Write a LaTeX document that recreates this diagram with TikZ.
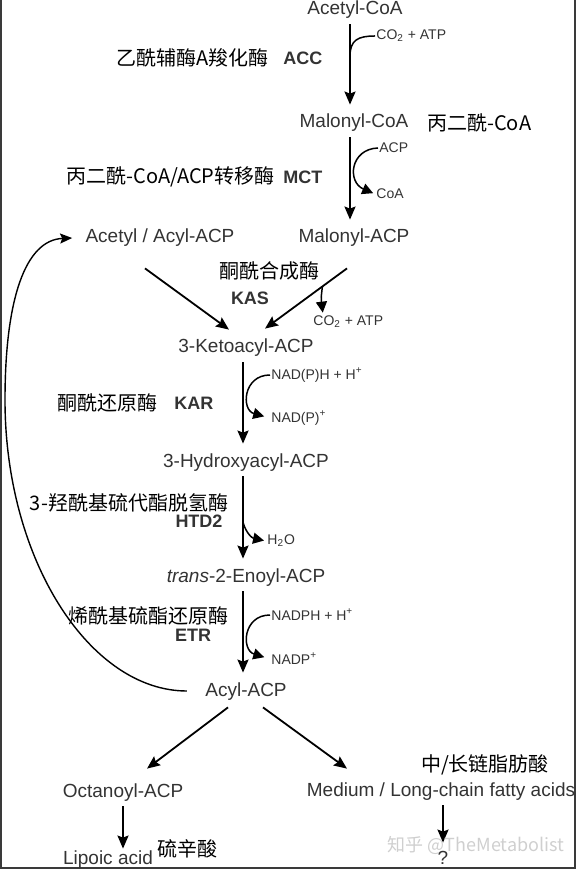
\documentclass[tikz,border=0pt]{standalone}
\usepackage{fontspec}
\setmainfont{Liberation Sans}
\setsansfont{Liberation Sans}
\newfontfamily\cjk{Noto Sans CJK SC}
\usepackage{tikz}
\usetikzlibrary{arrows.meta,positioning,calc}
\definecolor{Ink}{HTML}{333333}
\definecolor{Mark}{HTML}{CFCFCF}
\definecolor{Frame}{HTML}{3A3A3A}
\tikzset{
  metab/.style={text=Ink,font=\fontsize{9.5}{11}\selectfont,inner sep=0.5pt,text height=7pt,text depth=2pt},
  cofac/.style={text=Ink,font=\fontsize{7}{8}\selectfont,inner sep=0.5pt,anchor=west},
  enzyme/.style={text=Ink,font=\fontsize{9}{10}\selectfont\bfseries,inner sep=0.5pt},
  zhname/.style={text=black,font=\cjk\fontsize{10}{12}\selectfont,inner sep=0.5pt},
  flowarrow/.style={-{Stealth[length=6.5pt,width=5.5pt,inset=1pt]},line width=1pt,shorten <=2pt,shorten >=4pt},
  fork/.style={line width=0.75pt},
  forkarrow/.style={fork,-{Triangle[length=5.5pt,width=5.5pt]},shorten >=1pt},
  diagarrow/.style={-{Stealth[length=6.5pt,width=5.5pt,inset=1pt]},line width=0.9pt},
  recycle/.style={-{Stealth[length=6pt,width=5pt,inset=1pt]},line width=0.7pt},
  frame/.style={draw=Frame,line width=1pt},
  watermark/.style={text=Mark,font=\cjk\fontsize{9}{11}\selectfont,inner sep=0.5pt}
}

\begin{document}
\begin{tikzpicture}[x=0.5pt,y=-0.5pt]
  \useasboundingbox (0,0) rectangle (577,870);
  \draw[frame] (1,0) -- (1,868) -- (575,868) -- (575,0);
  % metabolites
  \node[metab] (acoa) at (355,10) {Acetyl-CoA};
  \node[metab] (mcoa) at (354,123) {Malonyl-CoA};
  \node[zhname,right=8pt of mcoa] (mcoazh) {丙二酰-CoA};
  \node[metab] (macp) at (354,238) {Malonyl-ACP};
  \node[metab] (aacp) at (160,238) {Acetyl / Acyl-ACP};
  \node[metab] (keto) at (246,348) {3-Ketoacyl-ACP};
  \node[metab] (hydroxy) at (246,462) {3-Hydroxyacyl-ACP};
  \node[metab] (enoyl) at (246,577) {\textit{trans}-2-Enoyl-ACP};
  \node[metab] (acyl) at (246,691) {Acyl-ACP};
  \node[metab] (oct) at (123,792) {Octanoyl-ACP};
  \node[metab] (lipoic) at (108,859) {Lipoic acid};
  \node[zhname] (lipoiczh) at (187,849) {硫辛酸};
  \node[metab] (mlc) at (441,791) {Medium / Long-chain fatty acids};
  \node[zhname] (mlczh) at (485,765) {中/长链脂肪酸};
  \node[metab] (unknown) at (443,859) {?};
  % enzymes
  \node[enzyme,anchor=west] (acc) at (282,58) {ACC};
  \node[zhname,left=6pt of acc] (acczh) {乙酰辅酶A羧化酶};
  \node[enzyme,anchor=west] (mct) at (282,177) {MCT};
  \node[zhname,left=3pt of mct] (mctzh) {丙二酰-CoA/ACP转移酶};
  \node[zhname] (kaszh) at (269,271) {酮酰合成酶};
  \node[enzyme] (kas) at (250,298) {KAS};
  \node[enzyme,anchor=west] (kar) at (173,403) {KAR};
  \node[zhname,left=7pt of kar] (karzh) {酮酰还原酶};
  \node[zhname] (htdzh) at (129,503) {3-羟酰基硫代酯脱氢酶};
  \node[enzyme] (htd) at (199,521) {HTD2};
  \node[zhname] (etrzh) at (148,616) {烯酰基硫酯还原酶};
  \node[enzyme] (etr) at (193,635) {ETR};
  % cofactors
  \node[cofac] (co2a) at (375,36) {CO\textsubscript{2} + ATP};
  \node[cofac] (acp) at (378,148) {ACP};
  \node[cofac] (coa) at (375,194) {CoA};
  \node[cofac] (co2b) at (312,322) {CO\textsubscript{2} + ATP};
  \node[cofac] (nadph) at (270,375) {NAD(P)H + H\textsuperscript{+}};
  \node[cofac] (nadp) at (270,418) {NAD(P)\textsuperscript{+}};
  \node[cofac] (water) at (266,541) {H\textsubscript{2}O};
  \node[cofac] (nadphb) at (270,615) {NADPH + H\textsuperscript{+}};
  \node[cofac] (nadpb) at (270,659) {NADP\textsuperscript{+}};
  % main steps
  \coordinate (upcol) at (350,0);
  \coordinate (lowcol) at (243,0);
  \draw[flowarrow] (acoa.south -| upcol) -- coordinate[pos=0.39] (accfork) (mcoa.north -| upcol);
  \draw[flowarrow] (mcoa.south -| upcol) -- (macp.north -| upcol);
  \draw[diagarrow] ($(aacp.south)+(-15,20)$) -- ($(keto.north)+(-17,-8)$);
  \draw[diagarrow] ($(macp.south)+(-7,20)$) -- coordinate[pos=0.3] (kasfork) ($(keto.north)+(19,-9)$);
  \draw[flowarrow] (keto.south -| lowcol) -- (hydroxy.north -| lowcol);
  \draw[flowarrow] (hydroxy.south -| lowcol) -- coordinate[pos=0.53] (htdfork) (enoyl.north -| lowcol);
  \draw[flowarrow] (enoyl.south -| lowcol) -- (acyl.north -| lowcol);
  % side reactions
  \draw[fork] (accfork) .. controls (350,40) and (358,36) .. (co2a.west);
  \draw[forkarrow] (acp.west) .. controls (350,149) and (347,182) .. (coa.west);
  \draw[forkarrow] (kasfork) .. controls (321,298) .. ($(co2b.north west)+(11,0)$);
  \draw[forkarrow,shorten >=3pt] (nadph.west) .. controls (243,375) and (241,410) .. (nadp.west);
  \draw[forkarrow] (htdfork) .. controls (246,533) and (252,538) .. (water.west);
  \draw[forkarrow,shorten >=3pt] (nadphb.west) .. controls (243,615) and (241,650) .. (nadpb.west);
  % recycling and branches
  \draw[recycle] ($(acyl.west)+(-17,0)$) .. controls (90,691) and (5,560) .. (5,400)
    .. controls (5,300) and (25,240) .. ($(aacp.west)+(-12,0)$);
  \draw[diagarrow] ($(acyl.south)+(-18,6)$) -- ($(oct.north)+(24,-13)$);
  \draw[diagarrow] ($(acyl.south)+(17,6)$) -- ($(mlc.north)+(-94,-12)$);
  \draw[flowarrow,shorten >=0pt] (oct.south) -- (oct.south |- lipoic.north);
  \draw[flowarrow,shorten >=3pt] (mlc.south -| unknown.north) -- (unknown.north);
  \node[watermark] (wmark) at (476,845) {知乎 @TheMetabolist};
\end{tikzpicture}
\end{document}
